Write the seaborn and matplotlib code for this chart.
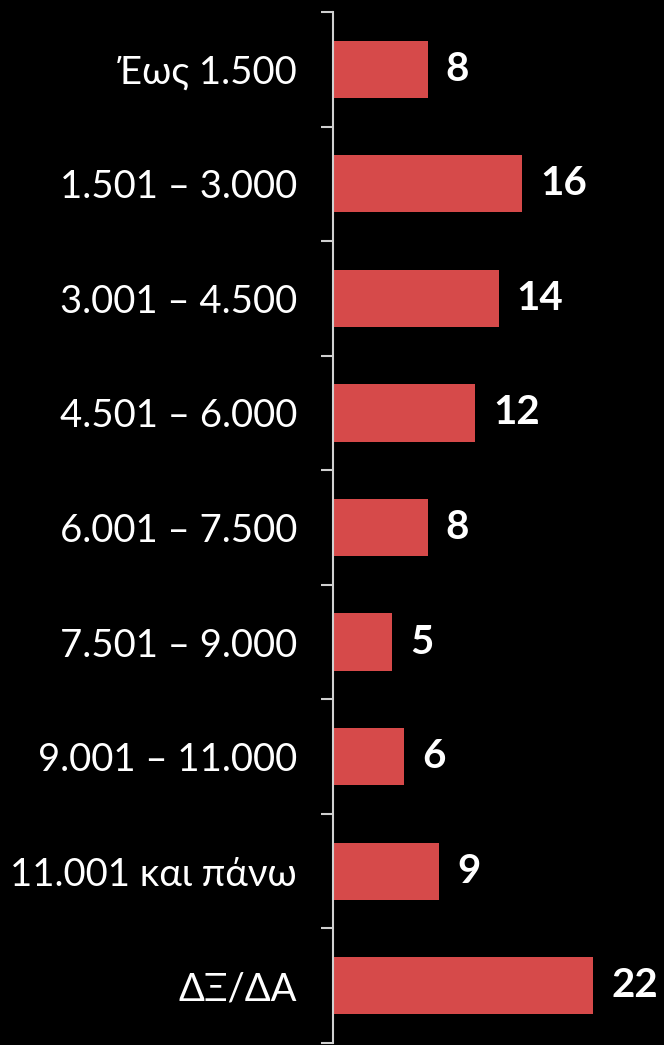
import matplotlib
matplotlib.use("Agg")
import matplotlib.pyplot as plt
import seaborn as sns
import pandas as pd
import numpy as np

# κατηγορίες εισοδήματος και τιμές
categories = ["Έως 1.500", "1.501 – 3.000", "3.001 – 4.500", "4.501 – 6.000",
              "6.001 – 7.500", "7.501 – 9.000", "9.001 – 11.000",
              "11.001 και πάνω", "ΔΞ/ΔΑ"]
values = [8, 16, 14, 12, 8, 5, 6, 9, 22]

sns.set_style("dark")
plt.rcParams['font.family'] = ['Lato', 'Noto Sans', 'DejaVu Sans']

df = pd.DataFrame({"cat": categories, "val": values})

fig = plt.figure(figsize=(6.64, 10.45), dpi=100, facecolor="black")
ax = fig.add_axes([333 / 664, 2 / 1045, 331 / 664, 1031 / 1045])
ax.set_facecolor("black")

sns.barplot(data=df, x="val", y="cat", color="#d64a4a", width=0.5,
            saturation=1, edgecolor="none", linewidth=0, ax=ax)

ax.set_xlim(0, 28)
ax.set_ylim(len(categories) - 0.5, -0.5)
ax.set_xlabel("")
ax.set_ylabel("")
ax.set_xticks([])
ax.grid(False)

for s in ["top", "right", "bottom"]:
    ax.spines[s].set_visible(False)
ax.spines["left"].set_color("#d0d0d0")
ax.spines["left"].set_linewidth(1.5)

# ετικέτες στο κέντρο, γραμμές στα όρια
ax.tick_params(axis="y", which="major", left=True, length=0, pad=26,
               labelsize=27.5, labelcolor="white")
ax.set_yticks(np.arange(len(categories) + 1) - 0.5, minor=True)
ax.tick_params(axis="y", which="minor", left=True, length=9, width=1.5,
               color="#d0d0d0", direction="out")

ax.bar_label(ax.containers[0], padding=13, color="white", fontsize=29,
             fontweight="bold", family=['Lato', 'DejaVu Sans'])

fig.savefig("out.png", dpi=100, facecolor="black")
